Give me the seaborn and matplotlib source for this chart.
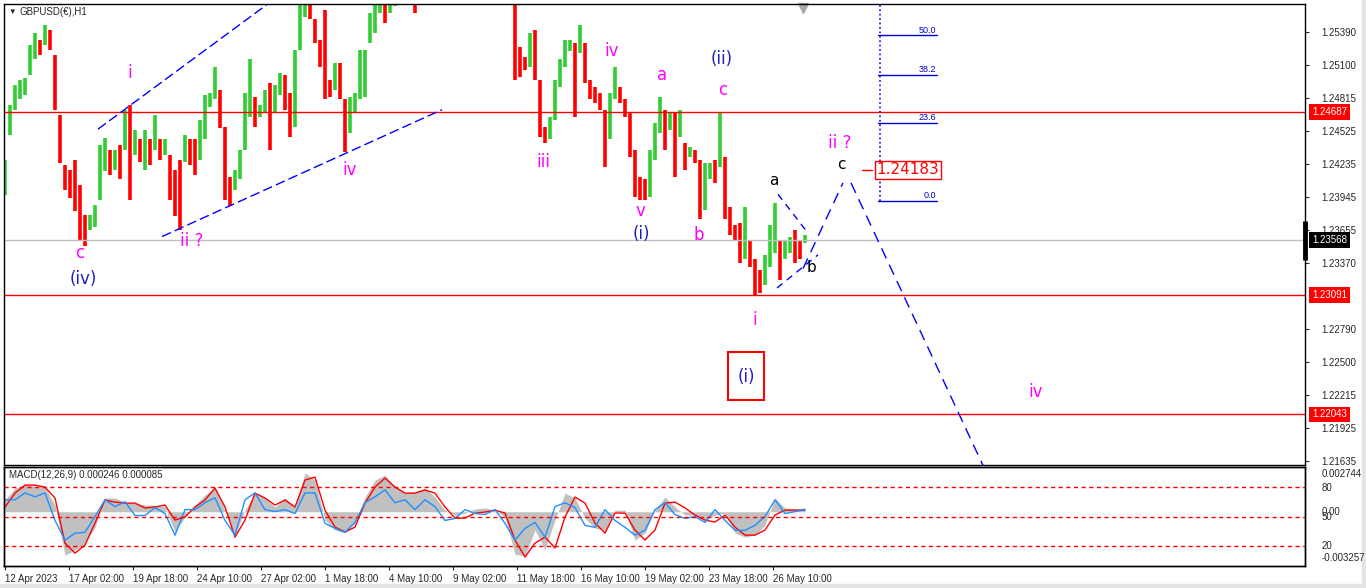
import numpy as np
import matplotlib.pyplot as plt
import matplotlib.transforms as mtrans
from matplotlib.patches import Rectangle
import seaborn as sns

# GBPUSD H1: one bar per 5 px column (high / low)
bar_high = [
    1.2427, 1.2475, 1.2493, 1.2497, 1.2499, 1.2528, 1.2538, 1.2532, 1.2545, 1.2541,
    1.2519, 1.2466, 1.2423, 1.2418, 1.2427, 1.2405, 1.2379, 1.2379, 1.2388, 1.2440,
    1.2446, 1.2436, 1.2436, 1.2440, 1.2471, 1.2475, 1.2453, 1.2445, 1.2453, 1.2445,
    1.2466, 1.2445, 1.2445, 1.2431, 1.2418, 1.2427, 1.2449, 1.2445, 1.2445, 1.2462,
    1.2484, 1.2486, 1.2508, 1.2488, 1.2456, 1.2412, 1.2418, 1.2436, 1.2486, 1.2515,
    1.2482, 1.2475, 1.2488, 1.2494, 1.2493, 1.2503, 1.2501, 1.2486, 1.2523, 1.2575,
    1.2578, 1.2575, 1.2550, 1.2532, 1.2558, 1.2497, 1.2512, 1.2512, 1.2480, 1.2482,
    1.2486, 1.2523, 1.2523, 1.2556, 1.2572, 1.2580, 1.2578, 1.2590, 1.2595, 1.2600,
    1.2605, 1.2598, 1.2590, 1.2600, 1.2610, 1.2615, 1.2620, 1.2625, 1.2618, 1.2612,
    1.2605, 1.2610, 1.2620, 1.2628, 1.2625, 1.2618, 1.2612, 1.2608, 1.2605, 1.2600,
    1.2598, 1.2595, 1.2590, 1.2526, 1.2517, 1.2538, 1.2541, 1.2497, 1.2456, 1.2465,
    1.2497, 1.2515, 1.2532, 1.2532, 1.2529, 1.2545, 1.2529, 1.2497, 1.2491, 1.2486,
    1.2471, 1.2486, 1.2508, 1.2491, 1.2480, 1.2468, 1.2436, 1.2412, 1.2410, 1.2436,
    1.2459, 1.2482, 1.2471, 1.2468, 1.2468, 1.2471, 1.2442, 1.2438, 1.2436, 1.2427,
    1.2424, 1.2424, 1.2427, 1.2469, 1.2430, 1.2386, 1.2370, 1.2372, 1.2386, 1.2357,
    1.2340, 1.2331, 1.2344, 1.2370, 1.2389, 1.2357, 1.2357, 1.2360, 1.2366, 1.2357,
    1.2361,
]
bar_low = [
    1.2396, 1.2449, 1.2471, 1.2480, 1.2484, 1.2501, 1.2515, 1.2519, 1.2528, 1.2523,
    1.2471, 1.2424, 1.2401, 1.2394, 1.2382, 1.2357, 1.2352, 1.2366, 1.2368, 1.2392,
    1.2417, 1.2414, 1.2418, 1.2410, 1.2436, 1.2392, 1.2431, 1.2425, 1.2418, 1.2423,
    1.2436, 1.2427, 1.2431, 1.2392, 1.2378, 1.2366, 1.2425, 1.2423, 1.2414, 1.2427,
    1.2445, 1.2473, 1.2480, 1.2455, 1.2392, 1.2387, 1.2401, 1.2410, 1.2436, 1.2465,
    1.2456, 1.2465, 1.2468, 1.2436, 1.2468, 1.2484, 1.2471, 1.2447, 1.2456, 1.2523,
    1.2552, 1.2550, 1.2529, 1.2508, 1.2480, 1.2482, 1.2488, 1.2480, 1.2434, 1.2451,
    1.2468, 1.2480, 1.2482, 1.2529, 1.2538, 1.2556, 1.2547, 1.2556, 1.2562, 1.2570,
    1.2572, 1.2568, 1.2556, 1.2572, 1.2580, 1.2585, 1.2590, 1.2595, 1.2588, 1.2582,
    1.2575, 1.2580, 1.2590, 1.2598, 1.2595, 1.2588, 1.2580, 1.2578, 1.2574, 1.2570,
    1.2568, 1.2570, 1.2497, 1.2500, 1.2506, 1.2508, 1.2497, 1.2447, 1.2442, 1.2445,
    1.2462, 1.2491, 1.2508, 1.2522, 1.2465, 1.2521, 1.2494, 1.2480, 1.2477, 1.2471,
    1.2421, 1.2445, 1.2480, 1.2477, 1.2465, 1.2430, 1.2395, 1.2392, 1.2392, 1.2395,
    1.2427, 1.2451, 1.2436, 1.2453, 1.2412, 1.2447, 1.2418, 1.2430, 1.2424, 1.2375,
    1.2383, 1.2410, 1.2407, 1.2421, 1.2375, 1.2361, 1.2357, 1.2337, 1.2340, 1.2333,
    1.2309, 1.2311, 1.2318, 1.2333, 1.2346, 1.2322, 1.2340, 1.2346, 1.2337, 1.2340,
    1.2354,
]

# MACD(12,26,9) panel, every second bar; main and signal in units of 1e-4
macd_main = [
    7.2, 14.5, 16.3, 15.7, 15.1, 4.1, -26.5, -23.4, -19.2, -9.4,
    8.4, 8.4, 5.9, 5.3, 4.1, 4.1, 2.9, -12.4, -3.2, 4.1,
    10.2, 15.1, 1.0, -14.3, 1.0, 11.4, 8.4, 2.9, 8.4, 2.9,
    23.7, 19.4, -5.1, -11.2, -13.0, -6.9, 9.0, 19.4, 22.5, 15.1,
    11.4, 12.1, 14.5, 9.0, 1.0, -2.0, -0.8, 1.7, 2.3, 1.0,
    -3.2, -26.0, -27.0, -11.2, -23.0, -5.1, 11.4, 8.4, -3.9, -10.0,
    -11.2, 1.0, 1.0, -17.3, -13.0, 1.0, 9.0, 2.9, -2.0, -2.0,
    -5.1, -2.0, -0.8, -13.0, -15.5, -14.3, -8.1, 8.4, 2.3, 1.7,
    2.3,
]
macd_signal = [
    2.9, 11.4, 16.3, 16.3, 15.1, 8.4, -19.2, -25.3, -20.4, -6.9,
    7.2, 5.9, 5.3, 5.3, 2.3, 2.9, 4.1, -5.1, -3.2, 2.9,
    7.2, 14.5, 2.9, -15.5, -5.1, 11.4, 8.4, 4.1, 7.2, 2.9,
    19.4, 21.2, 1.0, -9.4, -12.4, -9.4, 5.3, 15.1, 20.6, 15.1,
    11.4, 11.4, 13.3, 11.4, 2.9, -3.9, -3.9, -0.8, -0.2, 1.0,
    -0.8, -17.3, -27.7, -19.2, -15.5, -22.2, -3.2, 9.0, 5.3, -6.9,
    -13.0, -0.8, -0.8, -11.2, -17.3, -11.2, 5.3, 5.9, 2.3, -2.0,
    -5.1, -6.3, -2.0, -9.4, -14.3, -14.3, -11.2, -2.0, 1.0, 1.0,
    1.0,
]
osc_line = [
    67, 67, 74, 70, 74, 46, 26, 33, 34, 50,
    67, 60, 65, 51, 51, 59, 53, 31, 57, 57,
    64, 69, 46, 31, 67, 74, 57, 55, 57, 53,
    74, 74, 43, 38, 34, 44, 64, 70, 77, 64,
    67, 57, 67, 60, 46, 48, 57, 53, 52, 57,
    43, 26, 38, 44, 29, 60, 64, 59, 41, 39,
    57, 46, 39, 31, 36, 57, 64, 52, 48, 50,
    44, 57, 46, 36, 36, 41, 50, 67, 53, 55,
    57,
]
osc_levels = [80, 50, 20]

date_labels = ["12 Apr 2023", "17 Apr 02:00", "19 Apr 18:00", "24 Apr 10:00",
               "27 Apr 02:00", "1 May 18:00", "4 May 10:00", "9 May 02:00",
               "11 May 18:00", "16 May 10:00", "19 May 02:00", "23 May 18:00",
               "26 May 10:00"]
price_ticks = [1.25390, 1.25100, 1.24815, 1.24525, 1.24235, 1.23945, 1.23655,
               1.23370, 1.22790, 1.22500, 1.22215, 1.21925, 1.21635]
marked_levels = [1.24687, 1.23091, 1.22043]
last_price = 1.23568
target_price = 1.24183
fib_low, fib_high = 1.2391, 1.2681
fib_ratios = [0.0, 23.6, 38.2, 50.0]

MAG, NAVY, BLK = "#ff00ff", "#1c1cc8", "black"
# wave count labels: text, bar, price, colour, size
wave_labels = [
    ("c", 15.0, 1.2346, MAG, 12), ("(iv)", 15.6, 1.2323, NAVY, 12),
    ("i", 25.0, 1.2503, MAG, 12), ("ii ?", 37.4, 1.2356, MAG, 12),
    ("iv", 69.0, 1.2418, MAG, 12), ("iii", 107.6, 1.2425, MAG, 12),
    ("iv", 121.4, 1.2522, MAG, 12), ("v", 127.0, 1.2382, MAG, 12),
    ("(i)", 127.2, 1.2362, NAVY, 12), ("a", 131.4, 1.2501, MAG, 12),
    ("b", 138.8, 1.2361, MAG, 12), ("c", 143.6, 1.2488, MAG, 12),
    ("(ii)", 143.4, 1.2515, NAVY, 12), ("a", 153.8, 1.2409, BLK, 11),
    ("b", 161.2, 1.2333, BLK, 11), ("i", 150.0, 1.2287, MAG, 12),
    ("ii ?", 167.0, 1.2442, MAG, 12), ("c", 167.2, 1.2423, BLK, 11),
    ("iv", 206.2, 1.2224, MAG, 12),
]
# dashed guide lines: (bar0, price0), (bar1, price1), dash pattern
guide_lines = [
    ((18.6, 1.2454), (53.0, 1.2565), (7, 3)),
    ((31.4, 1.2360), (87.4, 1.2471), (7, 3)),
    ((154.6, 1.2397), (160.6, 1.2363), (5, 4)),
    ((154.4, 1.2315), (162.6, 1.2344), (5, 4)),
    ((159.6, 1.2332), (167.6, 1.2407), (8, 5)),
    ((169.2, 1.2407), (196.0, 1.2156), (8, 5)),
]

sns.set_style("white")
plt.rcParams["font.family"] = ["Liberation Sans", "DejaVu Sans"]
UI = 7
WAVE_FONT = ["DejaVu Sans"]

W, H = 1366, 588
fig = plt.figure(figsize=(W / 100, H / 100), dpi=100)
ax = fig.add_axes([4 / W, 1 - 465 / H, 1301 / W, 461 / H])
axm = fig.add_axes([4 / W, 1 - 566 / H, 1301 / W, 99 / H])

hi = np.array(bar_high)
lo = np.array(bar_low)
idx = np.arange(len(hi))
mid = (hi + lo) / 2
up = np.r_[True, mid[1:] >= mid[:-1]]
cols = np.where(up, "#32cd32", "#ff0000")
ax.vlines(idx, lo, hi, colors=cols, linewidth=2.6)

ax.set_xlim(-0.2, 260)
ax.set_ylim(1.21601, 1.25635)
ax.set_xticks([])
ax.yaxis.tick_right()
ax.set_yticks(price_ticks)
ax.set_yticklabels([f"{v:.5f}" for v in price_ticks])
ax.tick_params(axis="y", labelsize=UI, length=3, pad=9, right=True, width=0.8)
for s in ax.spines.values():
    s.set_color("black")
    s.set_linewidth(1)

for lv in marked_levels:
    ax.axhline(lv, color="red", lw=1)
ax.axhline(last_price, color="#c0c0c0", lw=1)

tr = mtrans.blended_transform_factory(ax.transAxes, ax.transData)
for lv in marked_levels:
    ax.annotate(f"{lv:.5f}", xy=(1, lv), xycoords=tr, xytext=(5, 0),
                textcoords="offset points", ha="left", va="center",
                fontsize=UI, color="white", annotation_clip=False,
                bbox=dict(boxstyle="square,pad=0.3", fc="red", ec="none"))
ax.annotate(f"{last_price:.5f}", xy=(1, last_price), xycoords=tr, xytext=(5, 0),
            textcoords="offset points", ha="left", va="center", fontsize=UI,
            color="white", annotation_clip=False,
            bbox=dict(boxstyle="square,pad=0.3", fc="black", ec="none"))
ax.plot([1.0, 1.0], [last_price - 0.0017, last_price + 0.0017], transform=tr,
        color="black", lw=3.5, clip_on=False, solid_capstyle="butt")

for (x0, y0), (x1, y1), dash in guide_lines:
    ax.plot([x0, x1], [y0, y1], color="#0000ff", lw=1, dashes=dash)

# fibonacci retracement
fib_prices = [fib_low + r / 100 * (fib_high - fib_low) for r in fib_ratios]
ax.plot([175.0, 175.0], [fib_low, fib_high], color="#0000ff", lw=1.2, ls=":")
for r, p in zip(fib_ratios, fib_prices):
    ax.plot([174.6, 186.4], [p, p], color="#0000cd", lw=1)
    ax.text(186.2, p + 0.00008, f"{r:.1f}", ha="right", va="bottom",
            fontsize=6.5, color="#0000cd")

ax.plot([171.4, 173.4], [target_price, target_price], color="red", lw=1)
ax.text(180.6, target_price, f"{target_price:.5f}", ha="center", va="center",
        fontsize=11, color="red", family=WAVE_FONT,
        bbox=dict(boxstyle="square,pad=0.12", fc="white", ec="red", lw=1))

ax.add_patch(Rectangle((144.6, 1.2217), 7.2, 0.0042, fill=False, ec="red", lw=1.5))
ax.text(148.2, 1.2237, "(i)", ha="center", va="center", fontsize=12, color=NAVY,
        family=WAVE_FONT)

for t, bx, py, c, fs in wave_labels:
    ax.text(bx, py, t, ha="center", va="center", fontsize=fs, color=c,
            family=WAVE_FONT)

ax.plot([159.6], [0.992], marker="v", color="#a8a8a8", markersize=7,
        transform=mtrans.blended_transform_factory(ax.transData, ax.transAxes),
        clip_on=False)

fig.text(8 / W, 1 - 12 / H, "\u25bc", fontsize=5.5, va="center", ha="left")
fig.text(20 / W, 1 - 12 / H, "GBPUSD(\u20ac),H1", fontsize=UI, va="center", ha="left")

# MACD panel
mx = idx[::2]
axm.set_xlim(-0.2, 260)
axm.set_ylim(-0.00332, 0.00274)
m_main = np.array(macd_main) * 1e-4
m_sig = np.array(macd_signal) * 1e-4
axm.fill_between(mx, 0, m_main, color="#c0c0c0", lw=0)
sns.lineplot(x=mx, y=m_sig, color="red", lw=1, ax=axm)
axo = axm.twinx()
axo.set_ylim(-0.3, 100.3)
sns.lineplot(x=mx, y=osc_line, color="#1e90ff", lw=1, ax=axo)
for lv in osc_levels:
    axo.axhline(lv, color="red", lw=1, dashes=(3, 2.5))
axo.set_yticks([])
axm.set_yticks([])
axo.set_ylabel("")
for a in (axm, axo):
    for s in a.spines.values():
        s.set_color("black")
        s.set_linewidth(1)

tick_pos = [12.8 * k for k in range(len(date_labels))]
axm.set_xticks(tick_pos)
axm.set_xticklabels(date_labels, ha="left", fontsize=UI)
axm.tick_params(axis="x", length=3, width=0.8, pad=3, bottom=True, direction="out")

fig.text(9 / W, 1 - 475 / H, "MACD(12,26,9) 0.000246 0.000085", fontsize=UI,
         va="center", ha="left")
for txt, ypx in [("0.002744", 474), ("80", 488), ("0.00", 512), ("50", 517),
                 ("20", 546), ("-0.003257", 558)]:
    fig.text(1322 / W, 1 - ypx / H, txt, fontsize=UI, va="center", ha="left")

fig.patches.append(Rectangle((1362 / W, 0), 4 / W, 1, transform=fig.transFigure,
                             color="#e4e4e4", zorder=0))
fig.patches.append(Rectangle((0, 0), 1, 4 / H, transform=fig.transFigure,
                             color="#e4e4e4", zorder=0))

fig.savefig("out.png", dpi=100)
